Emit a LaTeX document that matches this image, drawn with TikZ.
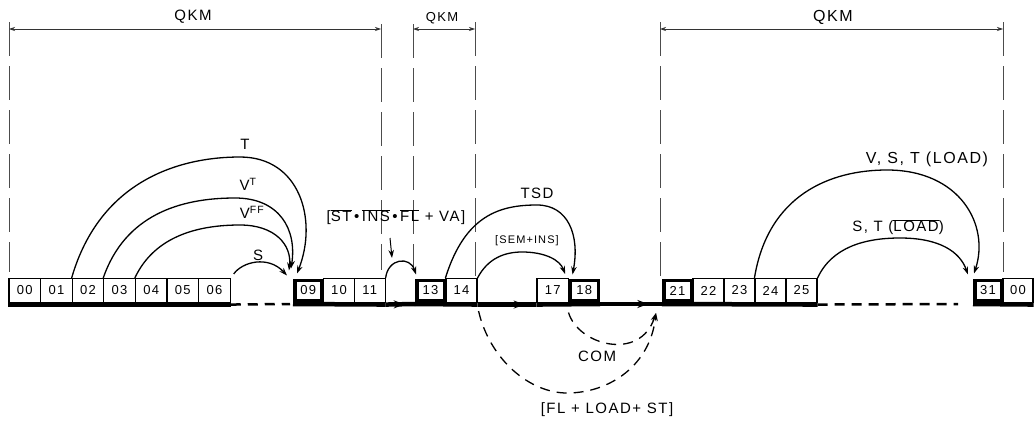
\documentclass[tikz,border=0pt]{standalone}
\usepackage{fontspec}
\setmainfont{Liberation Sans}
\newfontfamily\hand[LetterSpace=10]{Liberation Sans}
\usetikzlibrary{arrows.meta,decorations.markings}
\newcommand{\olx}[1]{$\overline{\mbox{#1}}$}
\begin{document}
\begin{tikzpicture}[x=1pt,y=-1pt,
  cell/.style={draw, line width=1.1pt, minimum width=#1, minimum height=24pt, inner sep=0pt, font=\hand\fontsize{13}{13}\selectfont},
  cell/.default=31.5pt,
  darkcell/.style={draw, line width=3.5pt, minimum width=#1, minimum height=20.5pt, inner sep=0pt, font=\hand\fontsize{13}{13}\selectfont},
  darkcell/.default=28pt,
  lbl/.style={font=\hand\fontsize{15}{15}\selectfont, inner sep=1pt},
  smalllbl/.style={font=\hand\fontsize{11}{11}\selectfont, inner sep=1pt},
  extline/.style={line width=0.7pt, draw=black!70, dash pattern=on 34pt off 10pt},
  dimline/.style={line width=0.7pt, draw=black!80, {Stealth[length=6pt,width=4pt]}-{Stealth[length=6pt,width=4pt]}},
  link/.style={line width=1.3pt, -{Stealth[length=8pt,width=5.5pt]}},
  dlink/.style={link, dash pattern=on 10pt off 7pt},
  mainbar/.style={line width=4.5pt},
  dbar/.style={line width=2.5pt, dash pattern=on 10pt off 7pt},
  midarrow/.style={postaction={decorate}, decoration={markings, mark=at position #1 with {\arrow{Stealth[length=11pt,width=8pt]}}}}
]
\fill[white] (0,0) rectangle (1034,423);
\useasboundingbox (0,0) rectangle (1034,423);

% extension lines
\foreach \n/\x/\t/\b in {1/9/22/272, 2/381/24/270, 3/413/24/270, 4/475/22/276, 5/660/22/276, 6/1003/22/272}{
  \coordinate (et\n) at (\x,\t);
  \coordinate (eb\n) at (\x,\b);
  \draw[extline] (et\n) -- (eb\n);
}
% dimension lines
\coordinate (d1a) at (9,29);   \coordinate (d1b) at (381,29);
\coordinate (d2a) at (413,29); \coordinate (d2b) at (475,29);
\coordinate (d3a) at (660,29); \coordinate (d3b) at (1003,29);
\draw[dimline] (d1a) -- (d1b);
\draw[dimline] (d2a) -- (d2b);
\draw[dimline] (d3a) -- (d3b);
\node[lbl] (q1) at (193,17) {QKM};
\node[lbl, font=\hand\fontsize{13}{13}\selectfont] (q2) at (442,18) {QKM};
\node[lbl, font=\hand\fontsize{16}{16}\selectfont] (q3) at (833,17) {QKM};

% cells
\foreach \n/\x in {00/24.8,01/56.4,02/88,03/119.6,04/151.2,05/182.8,06/214.4}
  \node[cell=31.6pt] (c\n) at (\x,290.5) {\n};
\node[darkcell=27.2pt] (c09) at (308.35,290.5) {09};
\node[cell=30.7pt] (c10) at (339.05,290.5) {10};
\node[cell=30.7pt] (c11) at (369.75,290.5) {11};
\node[darkcell=27.5pt] (c13) at (430.5,290.5) {13};
\node[cell=31pt] (c14) at (461.5,290.5) {14};
\node[cell=31.5pt] (c17) at (552.75,290.5) {17};
\node[darkcell=28pt] (c18) at (584.25,290.5) {18};
\node[darkcell=27.5pt] (c21) at (677.5,290.5) {21};
\foreach \n/\x in {22/708.5,23/739.5,24/770.5,25/801.5}
  \node[cell=31pt] (c\n) at (\x,290.5) {\n};
\node[darkcell=26.5pt] (c31) at (988,290.5) {31};
\node[cell=30pt] (cz) at (1018,290.5) {00};

% main bar
\draw[mainbar] ([yshift=-1.5pt]c00.south west) -- ([yshift=-1.5pt]c06.south east);
\draw[dbar] ([yshift=-1.5pt]c06.south east) -- ([yshift=-1.5pt,xshift=-3pt]c09.south west);
\draw[mainbar] ([yshift=-1.5pt]c09.south west) -- ([yshift=-1.5pt]c11.south east);
\draw[mainbar, midarrow=0.65] ([yshift=-1.5pt]c11.south east) -- ([yshift=-1.5pt]c13.south west);
\draw[mainbar] ([yshift=-1.5pt]c13.south west) -- ([yshift=-1.5pt]c14.south east);
\draw[mainbar, midarrow=0.8] ([yshift=-1.5pt]c14.south east) -- ([yshift=-1.5pt]c17.south west);
\draw[mainbar] ([yshift=-1.5pt]c17.south west) -- ([yshift=-1.5pt]c18.south east);
\draw[mainbar, midarrow=0.78] ([yshift=-1.5pt]c18.south east) -- ([yshift=-1.5pt]c21.south west);
\draw[mainbar] ([yshift=-1.5pt]c21.south west) -- ([yshift=-1.5pt]c25.south east);
\draw[dbar] ([yshift=-1.5pt]c25.south east) -- ([yshift=-1.5pt,xshift=-15pt]c31.south west);
\draw[mainbar] ([yshift=-1.5pt]c31.south west) -- ([yshift=-1.5pt]cz.south east);

% arcs left group
\draw[link] (c02.north west) .. controls (100,180) and (180,157) .. (240,157)
  .. controls (300,157) and (318,220) .. ([shift={(4,-5)}]c09.north west);
\draw[link] (c03.north west) .. controls (125,215) and (180,198) .. (235,198)
  .. controls (280,198) and (297,230) .. ([shift={(-2,-10)}]c09.north west);
\draw[link] (c04.north west) .. controls (155,235) and (200,225) .. (240,225)
  .. controls (275,225) and (292,245) .. ([shift={(-4,-8)}]c09.north west);
\draw[link] ([shift={(3,-4)}]c06.north east) .. controls (242,262) and (268,255) .. ([shift={(-6,-3)}]c09.north west);
\node[lbl] (lT) at (245,144) {T};
\node[lbl] (lVT) at (248,184) {V\textsuperscript{T}};
\node[lbl] (lVFF) at (252,212) {V\textsuperscript{FF}};
\node[lbl] (lS) at (258,255) {S};

% 11 -> 13
\draw[link] (c11.north east) .. controls (388,258) and (410,256) .. ([shift={(1,-4)}]c13.north west);
\node[lbl] (lST) at (396,217) {[\olx{ST}\,\textbullet\,\olx{INS}\,\textbullet\,\olx{FL} + VA]};
\coordinate (sa1) at (390,238);
\coordinate (sa2) at (392,258);
\draw[link, line width=1pt] (sa1) -- (sa2);

% 14 -> 18, 14 -> 17
\draw[link] (c14.north west) .. controls (465,215) and (500,205) .. (537,205)
  .. controls (568,205) and (580,235) .. ([shift={(4,-4)}]c18.north west);
\draw[link] (c14.north east) .. controls (488,258) and (505,252) .. (522,252)
  .. controls (545,252) and (560,260) .. ([shift={(-4,-4)}]c17.north east);
\node[lbl] (lTSD) at (537,193) {TSD};
\node[smalllbl] (lSEM) at (527,241) {[SEM+INS]};

% dashed returns
\coordinate (conv) at (656,313);
\draw[dlink] ([shift={(0,10)}]c18.south west) .. controls (578,345) and (640,362) .. (conv);
\draw[dlink] ([shift={(1,8)}]c14.south east) .. controls (490,360) and (530,393) .. (567,393)
  .. controls (610,393) and (650,365) .. (conv);
\node[lbl] (lCOM) at (597,356) {COM};
\node[lbl] (lFL) at (607,410) {[FL + LOAD+ ST]};

% right group
\draw[link] (c24.north west) .. controls (768,195) and (830,170) .. (887,170)
  .. controls (960,170) and (990,225) .. ([shift={(1,-5)}]c31.north west);
\draw[link] (c25.north east) .. controls (832,247) and (865,238) .. (900,238)
  .. controls (940,238) and (960,252) .. ([shift={(-5,-4)}]c31.north west);
\node[lbl, font=\hand\fontsize{16}{16}\selectfont] (lVST) at (927,159) {V, S, T (LOAD)};
\node[lbl] (lSTL) at (898,227) {S, T (\olx{LOAD})};
\end{tikzpicture}
\end{document}
